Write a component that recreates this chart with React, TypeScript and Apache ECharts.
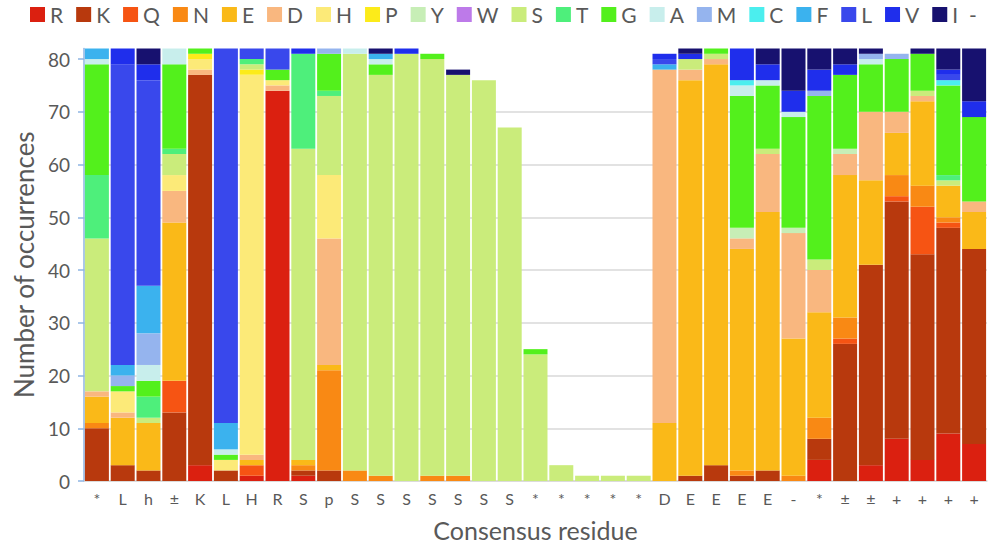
import React, { useEffect, useRef } from "react";
import * as echarts from "echarts";

const categories = ["*","L","h","±","K","L","H","R","S","p","S","S","S","S","S","S","S","*","*","*","*","*","D","E","E","E","E","-","*","±","±","+","+","+","+"];

const residues = ["R","K","Q","N","E","D","H","P","Y","W","S","T","G","A","M","C","F","L","V","I"];
const colors = ["#DB2010","#B8390D","#F65413","#F98914","#FAB918","#F9B77F","#FCEA78","#FCEB1A","#C7EEB6","#BD7AE9","#CAEC7B","#4EEF7B","#53F01C","#C8EEEC","#95B4EE","#4BEEEE","#3BB2EE","#3948EC","#1F2EEC","#17116F"];

const R = [0,0,0,0,3,0,1,74,1,0,0,0,0,0,0,0,0,0,0,0,0,0,0,0,0,0,0,0,4,0,3,8,4,9,7];
const K = [10,3,2,13,74,2,0,0,1,2,0,0,0,0,0,0,0,0,0,0,0,0,0,1,3,1,2,0,4,26,38,45,39,39,37];
const Q = [0,0,0,6,0,0,2,0,0,0,0,0,0,0,0,0,0,0,0,0,0,0,0,0,0,0,0,0,0,1,0,1,9,1,0];
const N = [1,0,0,0,0,0,0,0,1,19,2,1,0,1,1,0,0,0,0,0,0,0,0,0,0,1,0,1,4,4,0,4,4,1,0];
const E = [5,9,9,30,0,0,1,0,1,1,0,0,0,0,0,0,0,0,0,0,0,0,11,75,76,42,49,26,20,27,16,8,16,6,7];
const D = [1,1,0,6,1,0,1,1,0,24,0,0,0,0,0,0,0,0,0,0,0,0,67,2,1,2,11,20,8,4,13,4,1,0,2];
const H = [0,4,0,3,2,2,72,1,0,12,0,0,0,0,0,0,0,0,0,0,0,0,0,0,0,0,0,0,0,0,0,0,0,0,0];
const P = [0,0,0,0,1,0,1,0,0,0,0,0,0,0,0,0,0,0,0,0,0,0,0,0,0,0,0,0,0,0,0,0,0,0,0];
const Y = [0,0,0,0,0,0,0,0,0,0,0,0,0,0,0,0,0,0,0,0,0,0,0,0,0,2,0,1,0,1,0,0,0,0,0];
const W = [0,0,0,0,0,0,0,0,0,0,0,0,0,0,0,0,0,0,0,0,0,0,0,0,0,0,0,0,0,0,0,0,0,0,0];
const S = [29,0,1,4,0,0,1,0,59,15,79,76,81,79,76,76,67,24,3,1,1,1,0,2,1,0,1,0,2,0,0,0,1,1,0];
const T = [12,0,4,1,0,0,1,0,18,1,0,0,0,0,0,0,0,0,0,0,0,0,0,0,0,0,0,0,0,0,0,0,0,1,0];
const G = [21,1,3,16,1,1,0,2,0,7,0,2,0,1,0,0,0,1,0,0,0,0,0,0,1,25,12,21,31,14,9,10,7,17,16];
const A = [1,0,3,3,0,1,0,0,0,0,1,1,0,0,0,0,0,0,0,0,0,0,0,0,0,2,1,1,0,0,1,0,0,0,0];
const M = [0,2,6,0,0,0,0,0,0,1,0,0,0,0,0,0,0,0,0,0,0,0,0,0,0,0,0,0,1,0,1,1,0,0,0];
const C = [0,0,0,0,0,0,0,0,0,0,0,0,0,0,0,0,0,0,0,0,0,0,0,0,0,1,0,0,0,0,0,0,0,1,0];
const F = [2,2,9,0,0,5,0,0,0,0,0,1,0,0,0,0,0,0,0,0,0,0,1,0,0,0,0,0,0,0,0,0,0,0,0];
const L = [0,57,39,0,0,71,2,4,0,0,0,0,0,0,0,0,0,0,0,0,0,0,1,0,0,0,0,0,0,0,0,0,0,1,0];
const V = [0,3,3,0,0,0,0,0,1,0,0,0,1,0,0,0,0,0,0,0,0,0,1,1,0,6,3,4,4,2,0,0,0,1,3];
const I = [0,0,3,0,0,0,0,0,0,0,0,1,0,0,1,0,0,0,0,0,0,0,0,1,0,0,3,8,4,3,1,0,1,4,10];

const seriesValues = [R,K,Q,N,E,D,H,P,Y,W,S,T,G,A,M,C,F,L,V,I];
const yTicks = [0,10,20,30,40,50,60,70,80];

const FONT = "Lato";
const TXT = "#595959";

export default function App() {
  const ref = useRef<HTMLDivElement>(null);
  useEffect(() => {
    if (!ref.current) return;
    const chart = echarts.init(ref.current, undefined, { renderer: "svg" });
    chart.setOption({
      animation: false,
      textStyle: { fontFamily: FONT, color: TXT },
      legend: {
        top: 4,
        left: 30,
        padding: 0,
        width: 959,
        itemWidth: 15,
        itemHeight: 15,
        itemGap: 13,
        icon: "rect",
        textStyle: { fontFamily: FONT, fontSize: 21, color: TXT },
        formatter: (name: string) => (name === "I" ? "I  -" : name),
        data: residues,
      },
      grid: { left: 84, right: 2, top: 48.5, bottom: 66, outerBoundsMode: "none", containLabel: false },
      xAxis: {
        type: "category",
        data: categories,
        name: "Consensus residue",
        nameLocation: "middle",
        nameGap: 36,
        nameTextStyle: { fontFamily: FONT, fontSize: 25, color: TXT },
        axisLine: { lineStyle: { color: "#D9D9D9", width: 1.5 } },
        axisTick: { show: false },
        axisLabel: { fontFamily: FONT, fontSize: 16, color: TXT, margin: 9, interval: 0 },
      },
      yAxis: {
        type: "value",
        min: 0,
        max: 82,
        interval: 10,
        name: "Number of occurrences",
        nameLocation: "middle",
        nameGap: 46,
        nameTextStyle: { fontFamily: FONT, fontSize: 26, color: TXT },
        axisLine: { show: true, lineStyle: { color: "#8EB4E3", width: 1.5 } },
        axisTick: { show: true, inside: false, length: 6, lineStyle: { color: "#8EB4E3", width: 1.5 }, customValues: yTicks },
        axisLabel: { fontFamily: FONT, fontSize: 19, color: TXT, margin: 14, customValues: yTicks },
        splitLine: { show: true, showMaxLine: false, lineStyle: { color: "#D9D9D9", width: 1.5 } },
      },
      series: residues.map((name, i) => ({
        name,
        type: "bar",
        stack: "total",
        barCategoryGap: "7%",
        data: seriesValues[i],
        itemStyle: { color: colors[i] },
        emphasis: { disabled: true },
      })),
    });
    return () => chart.dispose();
  }, []);
  return <div ref={ref} style={{ width: 989, height: 547, position: "absolute", left: 0, top: 0 }} />;
}
